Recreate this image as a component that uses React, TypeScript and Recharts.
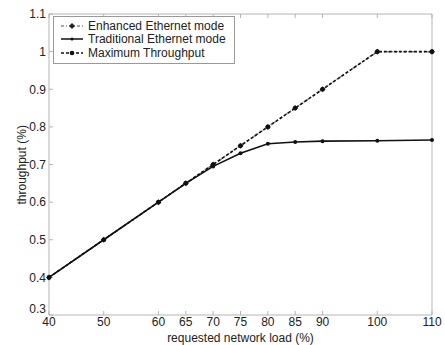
import { LineChart, Line, XAxis, YAxis } from "recharts";

const loads = [40, 50, 60, 65, 70, 75, 80, 85, 90, 100, 110];
const enhanced = [0.4, 0.5, 0.6, 0.65, 0.7, 0.75, 0.8, 0.85, 0.9, 1.0, 1.0];
const traditional = [0.4, 0.5, 0.6, 0.65, 0.695, 0.73, 0.755, 0.76, 0.762, 0.763, 0.765];
const maximum = [0.4, 0.5, 0.6, 0.65, 0.7, 0.75, 0.8, 0.85, 0.9, 1.0, 1.0];
const yTicks = [0.3, 0.4, 0.5, 0.6, 0.7, 0.8, 0.9, 1.0, 1.1];

const data = loads.map((load, i) => ({
  load,
  enhanced: enhanced[i],
  traditional: traditional[i],
  maximum: maximum[i],
}));

const font = "'Liberation Sans', Arial, Helvetica, sans-serif";
const axisColor = "#b5b5b5";

const legendItems = [
  { name: "Enhanced Ethernet mode", color: "#8a8a8a", dash: "3 2 1 2", marker: "diamond" },
  { name: "Traditional Ethernet mode", color: "#111", dash: undefined, marker: "small" },
  { name: "Maximum Throughput", color: "#111", dash: "3 2", marker: "dot" },
];

function LegendBox() {
  return (
    <div
      style={{
        position: "absolute",
        left: 53,
        top: 16,
        border: "1px solid #999",
        background: "#fff",
        width: 180,
        padding: "2px 0 3px 0",
        fontFamily: font,
        fontSize: 12,
        color: "#222",
      }}
    >
      {legendItems.map((it) => (
        <div key={it.name} style={{ display: "flex", alignItems: "center", height: 13.5 }}>
          <svg width={28} height={10} style={{ marginLeft: 6 }}>
            <line x1={1} y1={5} x2={23} y2={5} stroke={it.color} strokeWidth={1.5} strokeDasharray={it.dash} />
            {it.marker === "diamond" && <path d="M12,2 L15,5 L12,8 L9,5 Z" fill="#222" />}
            {it.marker === "small" && <circle cx={12} cy={5} r={1.5} fill="#111" />}
            {it.marker === "dot" && <circle cx={12} cy={5} r={2.3} fill="#111" />}
          </svg>
          <span>{it.name}</span>
        </div>
      ))}
    </div>
  );
}

const Diamond = (props: any) => {
  const { cx, cy } = props;
  if (cx == null || cy == null) return <g />;
  return <path d={`M${cx},${cy - 3} L${cx + 3},${cy} L${cx},${cy + 3} L${cx - 3},${cy} Z`} fill="#333" />;
};

const YTick = (props: any) => {
  const { x, y, payload } = props;
  const v = payload.value as number;
  const shift = v === 0.3 ? -6 : 0;
  return (
    <text x={x} y={y + shift} dy="0.355em" textAnchor="end" fill="#222" fontSize={12} fontFamily={font}>
      {v === 1 ? "1" : v.toFixed(1)}
    </text>
  );
};

export default function App() {
  return (
    <div style={{ position: "absolute", left: 0, top: 0, width: 445, height: 345, background: "#fff" }}>
      <LineChart
        width={445}
        height={345}
        data={data}
        margin={{ top: 13, right: 12, bottom: 0, left: 0 }}
      >
        <XAxis
          xAxisId="b"
          dataKey="load"
          type="number"
          domain={[40, 110]}
          ticks={loads}
          interval={0}
          height={30}
          stroke={axisColor}
          tickSize={-4}
          tickMargin={6}
          tick={{ fill: "#222", fontSize: 12, fontFamily: font }}
          label={{ value: "requested network load (%)", position: "insideBottom", offset: 0, fill: "#222", fontSize: 12, fontFamily: font, dy: -3 }}
        />
        <XAxis
          xAxisId="t"
          orientation="top"
          dataKey="load"
          type="number"
          domain={[40, 110]}
          ticks={loads}
          interval={0}
          height={1}
          stroke={axisColor}
          tickSize={-4}
          tick={() => <g />}
        />
        <YAxis
          yAxisId="l"
          type="number"
          domain={[0.3, 1.1]}
          ticks={yTicks}
          interval={0}
          width={49}
          stroke={axisColor}
          tickSize={-4}
          tickMargin={7}
          tick={<YTick />}
          label={{ value: "throughput (%)", angle: -90, position: "insideLeft", offset: 22, fill: "#222", fontSize: 12, fontFamily: font, dy: 40 }}
        />
        <YAxis
          yAxisId="r"
          orientation="right"
          type="number"
          domain={[0.3, 1.1]}
          ticks={yTicks}
          interval={0}
          width={1}
          stroke={axisColor}
          tickSize={-4}
          tick={() => <g />}
        />
        <Line
          xAxisId="b"
          yAxisId="l"
          dataKey="enhanced"
          stroke="#8a8a8a"
          strokeWidth={1.5}
          strokeDasharray="3 2 1 2"
          dot={<Diamond />}
          isAnimationActive={false}
        />
        <Line
          xAxisId="b"
          yAxisId="l"
          dataKey="maximum"
          stroke="#111"
          strokeWidth={1.6}
          strokeDasharray="3 2"
          dot={{ r: 2.3, fill: "#111", stroke: "none" }}
          isAnimationActive={false}
        />
        <Line
          xAxisId="b"
          yAxisId="l"
          dataKey="traditional"
          stroke="#111"
          strokeWidth={1.6}
          dot={{ r: 2, fill: "#111", stroke: "none" }}
          isAnimationActive={false}
        />
      </LineChart>
      <LegendBox />
    </div>
  );
}
